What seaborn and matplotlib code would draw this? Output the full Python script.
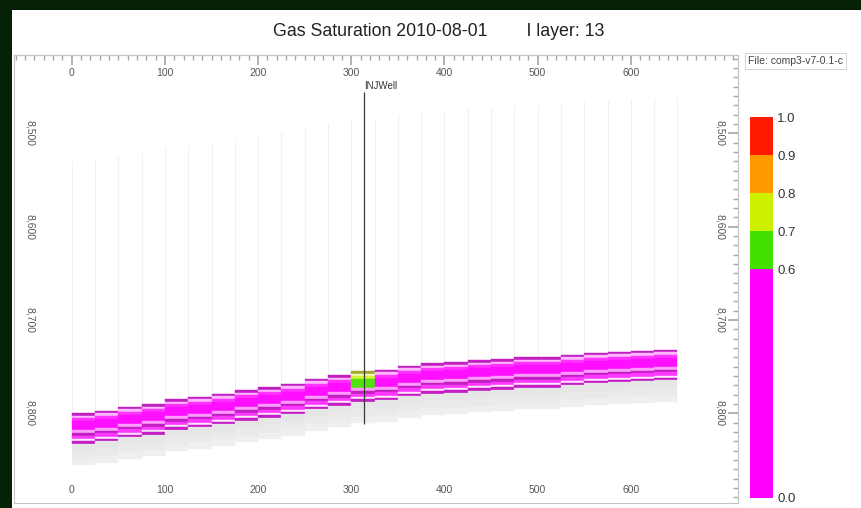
import numpy as np
import pandas as pd
import matplotlib
matplotlib.use("Agg")
import matplotlib.pyplot as plt
import seaborn as sns
from matplotlib.colors import ListedColormap, to_rgb
from matplotlib.patches import Rectangle
from matplotlib.ticker import MultipleLocator, FixedLocator, FuncFormatter

# --- data (I layer 13) ---
col_x = [0, 25, 50, 75, 100, 125, 150, 175, 200, 225, 250, 275, 300,
         325, 350, 375, 400, 425, 450, 475, 500, 525, 550, 575, 600, 625]
col_width = 25
# depth (ft) of the top of the gas-bearing band in each column
band_top = [8800, 8797, 8793, 8790, 8785, 8782, 8779, 8775, 8772, 8768, 8763, 8759, 8755,
            8753, 8749, 8746, 8745, 8743, 8742, 8740, 8740, 8737, 8735, 8734, 8733, 8732]
layer_thick = [2.7, 2.7, 3.2, 9.6, 3.2, 2.7, 3.8, 2.1, 2.7]
layer_sat = [0.35, 0.10, 0.30, 0.45, 0.08, 0.40, 0.28, 0.03, 0.38]
well_col = 12
well_sat = [0.76, 0.75, 0.74, 0.66, 0.40, 0.08, 0.35, 0.03, 0.30]
lower_thick = [8, 8, 7]          # grey (no gas) layers under the band
upper_thick = 270                # white layers above the band
well_x = 314
well_top, well_bottom = 8456, 8811

x_ticks = [0, 100, 200, 300, 400, 500, 600]
depth_ticks = [8500, 8600, 8700, 8800]

cbar_bounds = [0.0, 0.6, 0.7, 0.8, 0.9, 1.0]
cbar_colors = ["#ff00ff", "#44e000", "#ccf000", "#ff9900", "#ff1a00"]
cbar_ticks = ["1.0", "0.9", "0.8", "0.7", "0.6", "0.0"]

# shading of each layer inside the band (display look only)
layer_shade = [("k", 0.42), ("w", 0.72), ("w", 0.2), ("w", 0.06), ("w", 0.62),
               ("k", 0.42), ("w", 0.22), ("w", 0.9), ("k", 0.38)]
lower_colors = ["#e6e6e6", "#eaeaea", "#efefef"]


def cell_color(s, shade):
    i = int(np.clip(np.searchsorted(cbar_bounds, s, side="right") - 1, 0, 4))
    base = np.array(to_rgb(cbar_colors[i]))
    kind, f = shade
    if kind == "k":
        base = base * (1 - f) + np.array([0.4, 0.3, 0.4]) * f
    elif kind == "w":
        base = base * (1 - f) + f
    return tuple(base)


sns.set_theme(style="white")
plt.rcParams["font.family"] = ["Liberation Sans", "DejaVu Sans"]

fig = plt.figure(figsize=(8.61, 5.08), dpi=100, facecolor="#062206")
fig.add_artist(Rectangle((12 / 861, 0), 1, 1 - 10 / 508, transform=fig.transFigure,
                         facecolor="white", edgecolor="none", zorder=-10))

ax = fig.add_axes([14 / 861, 5 / 508, 724 / 861, 448 / 508])
ax.set_facecolor("white")

# white upper layers: only the faint column edges show
tops = np.array(band_top, dtype=float)
model_top = tops - upper_thick
ax.vlines(col_x, model_top, tops, color="#efefef", lw=0.6, zorder=1)
ax.vlines(col_x[-1] + col_width, model_top[-1], tops[-1], color="#efefef", lw=0.6, zorder=1)

# gas band
depth = tops.copy()
for k, th in enumerate(layer_thick):
    sats = [well_sat[k] if c == well_col else layer_sat[k] for c in range(len(col_x))]
    colors = [cell_color(s, layer_shade[k]) for s in sats]
    ax.bar(col_x, th, bottom=depth, width=col_width, align="edge",
           color=colors, edgecolor=colors, linewidth=0.3, zorder=2)
    depth = depth + th

# grey layers below
for k, th in enumerate(lower_thick):
    ax.bar(col_x, th, bottom=depth, width=col_width, align="edge",
           color=lower_colors[k], edgecolor=lower_colors[k], linewidth=0.2, zorder=2)
    depth = depth + th

# injector
ax.vlines(well_x, well_top, well_bottom, color="#3a3a3a", lw=0.9, zorder=5)
ax.text(well_x, well_top - 1, "INJWell", fontsize=7, color="#333333",
        ha="left", va="bottom", zorder=5)

ax.set_xlim(-62, 715)
ax.set_ylim(8896, 8416)

fmt = FuncFormatter(lambda v, p: f"{v:,.0f}")
ax.xaxis.set_major_locator(FixedLocator(x_ticks))
ax.xaxis.set_minor_locator(MultipleLocator(10))
ax.yaxis.set_major_locator(FixedLocator(depth_ticks))
ax.yaxis.set_minor_locator(MultipleLocator(10))
ax.yaxis.set_major_formatter(fmt)

ax.tick_params(axis="both", which="both", direction="in", color="#a8a8a8",
               labelcolor="#555555", labelsize=7.5)
ax.tick_params(axis="both", which="major", length=7)
ax.tick_params(axis="both", which="minor", length=3.5)
ax.tick_params(axis="x", which="major", pad=-13)
ax.tick_params(axis="y", which="major", pad=-15, labelrotation=-90)
for lab in ax.get_yticklabels():
    lab.set_va("center")

sec_x = ax.secondary_xaxis("top")
sec_x.xaxis.set_major_locator(FixedLocator(x_ticks))
sec_x.xaxis.set_minor_locator(MultipleLocator(10))
sec_x.tick_params(axis="x", which="both", direction="in", color="#a8a8a8",
                  labelcolor="#555555", labelsize=7.5)
sec_x.tick_params(which="major", length=7, pad=-16.5)
sec_x.tick_params(which="minor", length=3.5)

sec_y = ax.secondary_yaxis("right")
sec_y.yaxis.set_major_locator(FixedLocator(depth_ticks))
sec_y.yaxis.set_minor_locator(MultipleLocator(10))
sec_y.yaxis.set_major_formatter(fmt)
sec_y.tick_params(axis="y", which="both", direction="in", color="#a8a8a8",
                  labelcolor="#555555", labelsize=7.5)
sec_y.tick_params(which="major", length=7, pad=-16.5, labelrotation=-90)
sec_y.tick_params(which="minor", length=3.5)
for lab in sec_y.get_yticklabels():
    lab.set_va("center")

for a in (ax, sec_x, sec_y):
    for s in a.spines.values():
        s.set_color("#c4c4c4")
        s.set_linewidth(0.8)

# colour legend as a one-column heatmap
levels = np.arange(0.95, 0.0, -0.1).reshape(-1, 1)
cb_df = pd.DataFrame(levels, columns=["Sg"])
cb_cmap = ListedColormap([cbar_colors[0]] * 6 + cbar_colors[1:])
cax = fig.add_axes([750 / 861, 10 / 508, 23 / 861, 381 / 508])
sns.heatmap(cb_df, ax=cax, cmap=cb_cmap, vmin=0, vmax=1, cbar=False,
            xticklabels=False, yticklabels=False)
cax.set_yticks([0, 1, 2, 3, 4, 10])
cax.set_yticklabels(cbar_ticks)
cax.yaxis.tick_right()
cax.tick_params(axis="y", length=0, pad=3, labelsize=9.5, labelcolor="#333333",
                labelrotation=0)

fig.text(0.51, 1 - 31 / 508, "Gas Saturation 2010-08-01        I layer: 13",
         ha="center", va="center", fontsize=12.8, color="#222222")
fig.text(748 / 861, 1 - 61 / 508, "File: comp3-v7-0.1-c", ha="left", va="center",
         fontsize=7.5, color="#444444",
         bbox=dict(boxstyle="square,pad=0.3", fc="white", ec="#d0d0d0", lw=0.6))

fig.savefig("out.png", dpi=100, facecolor=fig.get_facecolor())
